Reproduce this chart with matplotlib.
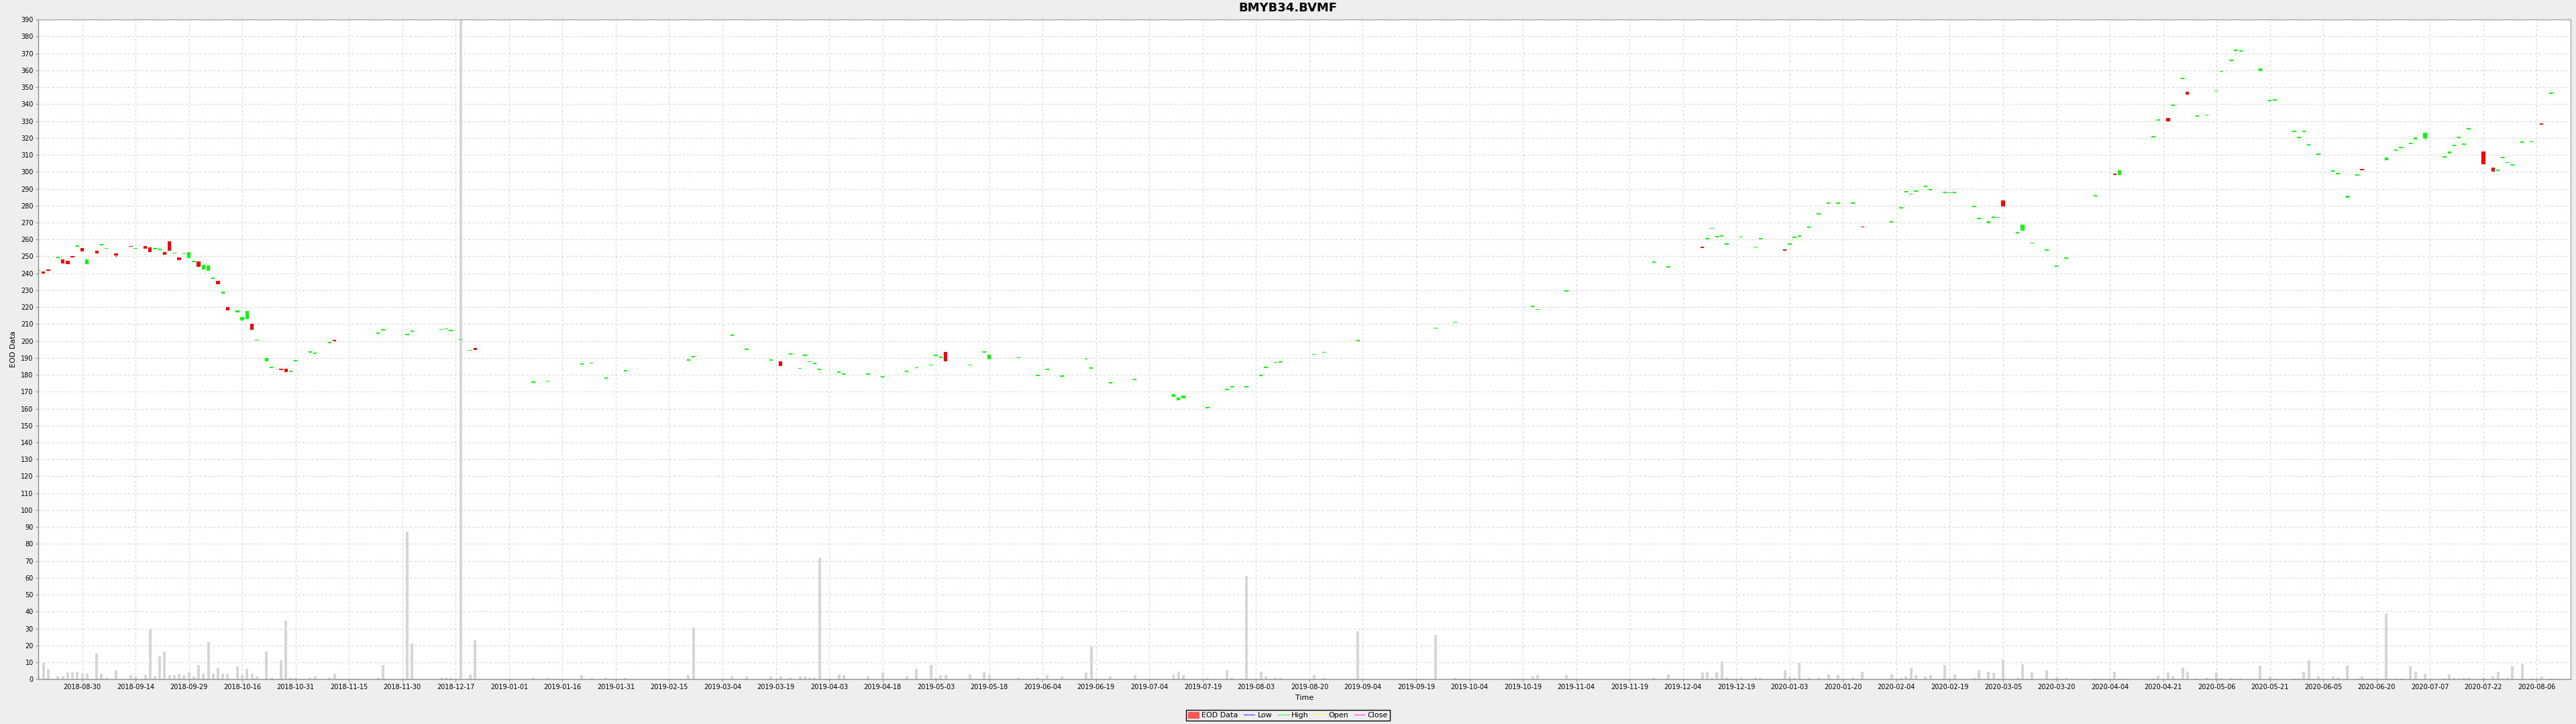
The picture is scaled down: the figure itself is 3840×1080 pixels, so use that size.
import numpy as np
import matplotlib
matplotlib.use("Agg")
import matplotlib.pyplot as plt
from matplotlib.patches import Patch
from matplotlib.lines import Line2D

title = "BMYB34.BVMF"
start = "2018-08-30"   # first labelled tick, axis runs on a Mon-Fri timeline

tick_labels = ["2018-08-30", "2018-09-14", "2018-09-29", "2018-10-16", "2018-10-31", "2018-11-15",
               "2018-11-30", "2018-12-17", "2019-01-01", "2019-01-16", "2019-01-31", "2019-02-15",
               "2019-03-04", "2019-03-19", "2019-04-03", "2019-04-18", "2019-05-03", "2019-05-18",
               "2019-06-04", "2019-06-19", "2019-07-04", "2019-07-19", "2019-08-03", "2019-08-20",
               "2019-09-04", "2019-09-19", "2019-10-04", "2019-10-19", "2019-11-04", "2019-11-19",
               "2019-12-04", "2019-12-19", "2020-01-03", "2020-01-20", "2020-02-04", "2020-02-19",
               "2020-03-05", "2020-03-20", "2020-04-04", "2020-04-21", "2020-05-06", "2020-05-21",
               "2020-06-05", "2020-06-20", "2020-07-07", "2020-07-22", "2020-08-06"]

dates = [
    "2018-08-17", "2018-08-20", "2018-08-21", "2018-08-23", "2018-08-24", "2018-08-27", "2018-08-28", "2018-08-29", "2018-08-30", "2018-08-31",
    "2018-09-04", "2018-09-05", "2018-09-06", "2018-09-10", "2018-09-13", "2018-09-14", "2018-09-18", "2018-09-19", "2018-09-20", "2018-09-21",
    "2018-09-24", "2018-09-25", "2018-09-26", "2018-09-27", "2018-09-28",
    "2018-10-01", "2018-10-02", "2018-10-03", "2018-10-04", "2018-10-05", "2018-10-08", "2018-10-09", "2018-10-10", "2018-10-11", "2018-10-15",
    "2018-10-16", "2018-10-17", "2018-10-18", "2018-10-19", "2018-10-23", "2018-10-24", "2018-10-26", "2018-10-29", "2018-10-30", "2018-10-31",
    "2018-11-05", "2018-11-06", "2018-11-09", "2018-11-12", "2018-11-23", "2018-11-26",
    "2018-12-03", "2018-12-04", "2018-12-12", "2018-12-13", "2018-12-14", "2018-12-18", "2018-12-20", "2018-12-21",
    "2019-01-08", "2019-01-11", "2019-01-22", "2019-01-24", "2019-01-29",
    "2019-02-04", "2019-02-21", "2019-02-22",
    "2019-03-06", "2019-03-11", "2019-03-18", "2019-03-20", "2019-03-22", "2019-03-26", "2019-03-27", "2019-03-28", "2019-03-29",
    "2019-04-01", "2019-04-05", "2019-04-08", "2019-04-15", "2019-04-18", "2019-04-25", "2019-04-29",
    "2019-05-02", "2019-05-03", "2019-05-06", "2019-05-07", "2019-05-14", "2019-05-17", "2019-05-20", "2019-05-28",
    "2019-06-03", "2019-06-05", "2019-06-10", "2019-06-17", "2019-06-18", "2019-06-24",
    "2019-07-01", "2019-07-11", "2019-07-12", "2019-07-15", "2019-07-22", "2019-07-26", "2019-07-29",
    "2019-08-01", "2019-08-06", "2019-08-07", "2019-08-09", "2019-08-12", "2019-08-21", "2019-08-23",
    "2019-09-03", "2019-09-25",
    "2019-10-01", "2019-10-23", "2019-10-24",
    "2019-11-01", "2019-11-27",
    "2019-12-02", "2019-12-11", "2019-12-12", "2019-12-13", "2019-12-16", "2019-12-17", "2019-12-18", "2019-12-23", "2019-12-26", "2019-12-27",
    "2020-01-03", "2020-01-06", "2020-01-07", "2020-01-08", "2020-01-10", "2020-01-14", "2020-01-16", "2020-01-20", "2020-01-23", "2020-01-27",
    "2020-02-04", "2020-02-06", "2020-02-07", "2020-02-10", "2020-02-11", "2020-02-13", "2020-02-14", "2020-02-19", "2020-02-20", "2020-02-21",
    "2020-02-27", "2020-02-28",
    "2020-03-03", "2020-03-04", "2020-03-05", "2020-03-06", "2020-03-11", "2020-03-12", "2020-03-16", "2020-03-19", "2020-03-23", "2020-03-25",
    "2020-04-02", "2020-04-08", "2020-04-09", "2020-04-20", "2020-04-21", "2020-04-23", "2020-04-24", "2020-04-28", "2020-04-29",
    "2020-05-01", "2020-05-05", "2020-05-07", "2020-05-08", "2020-05-12", "2020-05-13", "2020-05-14", "2020-05-20", "2020-05-22", "2020-05-25",
    "2020-05-29",
    "2020-06-01", "2020-06-02", "2020-06-03", "2020-06-05", "2020-06-10", "2020-06-11", "2020-06-15", "2020-06-17", "2020-06-18", "2020-06-25",
    "2020-06-29", "2020-06-30",
    "2020-07-02", "2020-07-03", "2020-07-07", "2020-07-13", "2020-07-14", "2020-07-15", "2020-07-16", "2020-07-17", "2020-07-20", "2020-07-23",
    "2020-07-27", "2020-07-28", "2020-07-29", "2020-07-30", "2020-07-31",
    "2020-08-04", "2020-08-06", "2020-08-10", "2020-08-12",
]

opens = [
    241.3, 241.0, 242.4, 249.2, 248.4, 247.6, 250.0, 255.8, 255.0, 245.5,
    253.4, 256.6, 254.4, 251.6, 256.2, 254.4, 256.0, 255.4, 254.1, 253.7,
    252.4, 258.9, 251.6, 249.6, 251.2,
    249.1, 246.7, 247.2, 242.1, 241.6, 236.8, 235.7, 228.1, 219.9, 217.0,
    212.0, 212.8, 210.0, 200.1, 188.1, 184.0, 183.1, 183.6, 181.6, 187.9,
    193.1, 192.3, 198.6, 200.3, 204.4, 206.3,
    203.6, 205.5, 206.4, 206.8, 205.7, 200.5, 194.2, 196.0,
    175.4, 175.9, 185.9, 186.6, 177.7,
    182.1, 188.3, 190.4,
    203.1, 194.8, 188.5, 187.8, 192.0, 183.5, 191.1, 187.4, 186.4,
    183.0, 181.4, 180.1, 180.2, 178.4, 181.8, 183.9,
    185.4, 191.1, 189.9, 193.5, 185.4, 193.1, 189.2, 189.8,
    179.3, 183.0, 178.8, 189.0, 183.8, 174.8,
    177.0, 166.9, 165.1, 166.0, 160.3, 171.1, 172.7,
    172.7, 179.2, 184.2, 187.0, 187.3, 191.8, 193.0,
    199.8, 207.2,
    210.8, 220.1, 218.3,
    229.1, 246.3,
    243.4, 255.8, 260.1, 266.3, 261.3, 261.8, 257.0, 261.1, 255.2, 260.2,
    253.7, 257.0, 261.0, 261.8, 267.0, 274.7, 281.1, 281.1, 281.2, 267.6,
    270.1, 278.4, 287.9, 286.5, 288.4, 291.1, 289.1, 287.5, 287.3, 287.4,
    279.2, 272.1,
    269.7, 272.7, 272.6, 283.0, 263.7, 265.2, 257.6, 253.4, 244.0, 248.8,
    285.4, 298.8, 298.3, 320.5, 330.4, 331.9, 339.1, 355.0, 347.2,
    332.8, 333.3, 347.5, 359.0, 365.6, 371.5, 371.0, 359.6, 341.9, 342.3,
    323.7,
    319.9, 323.7, 315.5, 310.1, 300.1, 298.5, 284.7, 297.7, 301.6, 306.9,
    312.4, 314.1,
    316.3, 319.2, 319.9, 308.6, 310.9, 315.1, 320.0, 316.1, 325.2, 312.1,
    302.6, 300.7, 308.0, 305.1, 303.6,
    317.1, 317.4, 328.6, 346.1,
]

closes = [
    241.3, 240.0, 241.5, 249.2, 246.0, 245.3, 249.6, 255.8, 252.8, 248.4,
    251.7, 256.6, 254.4, 250.5, 255.6, 254.4, 254.4, 252.5, 254.1, 253.7,
    250.8, 253.3, 251.6, 247.9, 251.2,
    252.4, 246.7, 243.7, 244.9, 244.7, 236.8, 233.6, 229.0, 218.0, 218.2,
    214.3, 217.5, 206.6, 200.1, 189.9, 184.0, 182.9, 181.8, 181.6, 187.9,
    193.1, 192.3, 198.6, 199.9, 204.4, 206.3,
    203.6, 205.5, 206.4, 206.8, 205.7, 200.5, 194.2, 194.9,
    175.4, 175.9, 185.9, 186.6, 177.7,
    182.1, 188.3, 190.4,
    203.1, 194.8, 188.5, 185.3, 192.0, 183.5, 191.1, 187.4, 186.4,
    183.0, 181.4, 180.1, 180.2, 179.3, 181.8, 183.9,
    185.4, 191.1, 189.9, 187.8, 185.4, 193.9, 191.8, 189.8,
    179.3, 183.0, 178.8, 189.0, 183.8, 174.8,
    177.0, 168.5, 166.4, 167.6, 160.3, 171.1, 172.7,
    172.7, 179.2, 184.2, 187.0, 187.3, 191.8, 193.0,
    199.8, 207.2,
    210.8, 220.1, 218.3,
    229.1, 246.3,
    243.4, 254.9, 260.1, 266.3, 261.3, 261.8, 257.0, 261.1, 255.2, 260.2,
    253.3, 257.0, 261.0, 261.8, 267.0, 274.7, 281.1, 281.1, 281.2, 267.1,
    270.1, 278.4, 287.9, 286.5, 288.4, 291.1, 289.1, 287.5, 287.3, 287.4,
    279.2, 272.1,
    270.9, 272.7, 272.6, 279.6, 263.7, 268.9, 257.6, 253.4, 244.0, 248.8,
    285.4, 298.2, 301.0, 320.5, 330.4, 329.9, 339.1, 355.0, 345.6,
    332.8, 333.3, 347.5, 359.0, 365.6, 371.5, 371.0, 361.1, 341.9, 342.3,
    323.7,
    319.9, 323.7, 315.5, 310.1, 300.1, 298.5, 285.8, 297.7, 301.0, 308.4,
    312.4, 314.1,
    316.3, 320.2, 323.3, 308.6, 312.1, 315.1, 320.0, 316.1, 325.2, 304.3,
    300.1, 300.7, 308.0, 305.1, 303.6,
    317.1, 317.4, 328.0, 346.1,
]

volumes = [
    2.0, 10.0, 6.1, 1.7, 1.7, 3.9, 3.9, 4.5, 3.2, 3.2,
    15.2, 3.2, 0.9, 5.3, 2.4, 1.7, 2.4, 29.3, 1.7, 13.6,
    16.5, 2.4, 2.4, 3.2, 2.4,
    3.9, 1.7, 8.4, 3.2, 21.9, 3.2, 6.8, 3.2, 3.2, 7.6,
    2.4, 6.1, 3.2, 1.7, 16.5, 0.9, 11.3, 34.5, 0.9, 0.9,
    0.9, 1.7, 0.9, 3.2, 0.9, 8.4,
    87.4, 21.1, 0.9, 0.9, 0.9, 400.0, 3.0, 23.2,
    0.9, 0.9, 2.4, 0.9, 0.9,
    0.9, 2.4, 30.7,
    1.7, 1.7, 1.7, 1.7, 0.9, 1.7, 1.7, 0.9, 0.9,
    71.8, 3.0, 2.4, 1.7, 4.0, 1.7, 6.1,
    8.5, 0.9, 2.4, 2.4, 3.0, 4.0, 2.4, 0.9,
    0.9, 2.4, 1.7, 4.0, 19.6, 1.7,
    2.4, 3.0, 4.6, 2.4, 0.9, 5.3, 0.9,
    61.3, 4.6, 1.7, 0.9, 0.9, 2.4, 0.9,
    28.3, 26.4,
    0.9, 1.7, 2.4,
    2.4, 0.9,
    3.0, 4.0, 4.0, 0.9, 4.0, 10.6, 0.9, 0.9, 0.9, 0.9,
    5.3, 1.7, 0.9, 9.8, 0.9, 0.9, 3.0, 2.4, 0.9, 4.6,
    3.0, 0.9, 1.7, 6.8, 2.4, 1.7, 2.4, 8.5, 0.4, 3.0,
    0.9, 5.3,
    4.6, 3.7, 0.4, 11.7, 0.9, 8.9, 4.0, 5.3, 1.3, 0.9,
    0.4, 4.4, 0.4, 0.4, 2.0, 4.0, 1.5, 6.8, 4.6,
    0.4, 0.9, 4.0, 0.4, 0.9, 0.4, 0.4, 7.9, 1.7, 0.4,
    0.4,
    0.4, 4.6, 11.3, 1.7, 1.7, 0.9, 8.1, 0.4, 1.7, 39.1,
    0.4, 0.4,
    7.5, 4.4, 3.2, 0.4, 2.9, 0.9, 0.4, 0.9, 0.9, 0.9,
    1.7, 4.4, 0.4, 0.9, 7.5,
    9.1, 0.4, 1.7, 0.4,
]

# the few candles where a wick shows beyond the body
wick_dates = ["2018-09-10", "2020-04-29", "2020-07-07"]
wick_highs = [251.6, 347.6, 323.3]
wick_lows = [249.9, 345.6, 319.3]


def day_index(d):
    return np.busday_count(start, np.array(d, dtype="datetime64[D]"))


x = day_index(dates)
o = np.array(opens)
c = np.array(closes)
up = c >= o
colors = np.where(up, "#00ff00", "#ff0000")
bottom = np.minimum(o, c)
height = np.maximum(np.abs(c - o), 0.7)

fig = plt.figure(figsize=(38.4, 10.8), dpi=100, facecolor="#eeeeee")
ax = fig.add_axes([0.01477, 0.0618, 0.98315, 0.9111])
ax.set_facecolor("white")

# volume on the same axis
ax.bar(x, volumes, width=0.55, color="#d6d6d6", zorder=2)
ax.bar(x, height, bottom=bottom, width=0.75, color=colors, linewidth=0, zorder=3)
wx = day_index(wick_dates)
wc = np.where(np.isin(wx, x[up]), "#00ff00", "#ff0000")
ax.vlines(wx, wick_lows, wick_highs, colors=wc, linewidth=1, zorder=3)

ax.set_xlim(-9.1, 513.0)
ax.set_ylim(0, 390)
ax.set_xticks(np.arange(len(tick_labels)) * 11)
ax.set_xticklabels(tick_labels)
ax.set_yticks(np.arange(0, 391, 10))
ax.tick_params(labelsize=7, length=3, color="#999999", pad=2)
ax.set_axisbelow(True)
ax.grid(True, color="#d8d8d8", linestyle=(0, (3, 3)), linewidth=0.8)
for s in ax.spines.values():
    s.set_color("#a8a8a8")
    s.set_linewidth(1)
ax.spines["left"].set_color("#8c8c8c")
ax.spines["bottom"].set_color("#8c8c8c")

fig.text(0.5, 1 - 12 / 1080, title, ha="center", va="center", fontsize=13, fontweight="bold")
fig.text(20 / 3840, 0.5176, "EOD Data", rotation=90, ha="center", va="center", fontsize=8)
fig.text(0.5063, 1 - 1041 / 1080, "Time", ha="center", va="center", fontsize=8)

handles = [Patch(facecolor="#ff5555", edgecolor="#ff5555", label="EOD Data"),
           Line2D([], [], color="#5555ff", lw=1, label="Low"),
           Line2D([], [], color="#55ff55", lw=1, label="High"),
           Line2D([], [], color="#ffff55", lw=1, label="Open"),
           Line2D([], [], color="#ff55ff", lw=1, label="Close")]
leg = fig.legend(handles=handles, loc="center", bbox_to_anchor=(0.5, 1 - 1067 / 1080), ncol=5,
                 fontsize=8, frameon=True, fancybox=False, edgecolor="black", facecolor="#eeeeee",
                 framealpha=1, handlelength=1.4, handleheight=0.9, handletextpad=0.4,
                 columnspacing=0.8, borderpad=0.25)
leg.get_frame().set_linewidth(1)

fig.savefig("out.png", dpi=100, facecolor=fig.get_facecolor())
